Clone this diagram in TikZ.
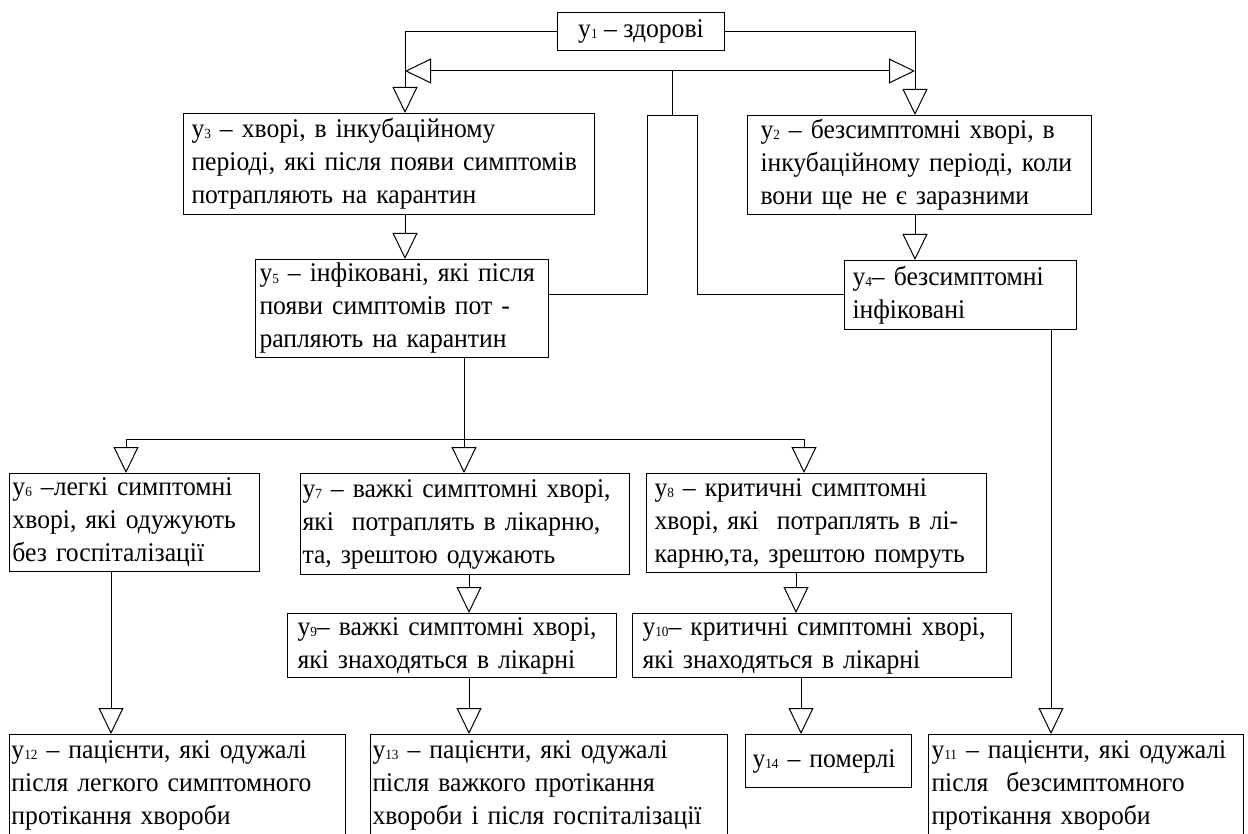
\documentclass[tikz,border=0pt]{standalone}
\usepackage{fontspec}
\setmainfont{Liberation Serif}[FakeStretch=0.95]
\usetikzlibrary{arrows.meta}

\newcommand{\ysub}[1]{y\raisebox{-0.04em}{\fontsize{14}{14}\selectfont #1}}

\begin{document}
\begin{tikzpicture}[x=1pt, y=-1pt,
    state/.style={draw, line width=1pt, rectangle, anchor=north west, align=left,
        inner ysep=0pt, font=\fontsize{27}{33}\selectfont},
    link/.style={line width=1pt},
    flow/.style={link, -{Triangle[open, length=26pt, width=25pt]}}]

    \useasboundingbox (0,0) rectangle (1248,834);

    % States of the model
    \node[state, minimum width=167pt, minimum height=38pt, align=center, inner xsep=0pt] (y1) at (557,12) {\ysub{1} – здорові};
    \node[state, text width=395pt, inner xsep=8pt, minimum height=101pt] (y3) at (183,113)
        {\ysub{3} – хворі, в інкубаційному\\ періоді, які після появи симптомів\\ потрапляють на карантин};
    \node[state, text width=318pt, inner xsep=13pt, minimum height=99pt] (y2) at (747,115)
        {\ysub{2} – безсимптомні хворі, в\\ інкубаційному періоді, коли\\ вони ще не є заразними};
    \node[state, text width=285pt, inner xsep=4pt, minimum height=98pt] (y5) at (255,259)
        {\ysub{5} – інфіковані, які після\\ появи симптомів пот -\\ рапляють на карантин};
    \node[state, text width=216pt, inner xsep=8pt, minimum height=69pt] (y4) at (844,260)
        {\ysub{4}– безсимптомні\\ інфіковані};
    \node[state, text width=244pt, inner xsep=3pt, minimum height=98pt] (y6) at (9,473)
        {\ysub{6} –легкі симптомні\\ хворі, які одужують\\ без госпіталізації};
    \node[state, text width=325pt, inner xsep=2pt, minimum height=101pt] (y7) at (300,473)
        {\ysub{7} – важкі симптомні хворі,\\ які\ \ потраплять в лікарню,\\ та, зрештою одужають};
    \node[state, text width=324pt, inner xsep=8pt, minimum height=99pt] (y8) at (646,473)
        {\ysub{8} – критичні симптомні\\ хворі, які\ \ потраплять в лі-\\ карню,та, зрештою помруть};
    \node[state, text width=309pt, inner xsep=10pt, minimum height=64pt] (y9) at (287,613)
        {\ysub{9}– важкі симптомні хворі,\\ які знаходяться в лікарні};
    \node[state, text width=359pt, inner xsep=10pt, minimum height=64pt] (y10) at (632,613)
        {\ysub{10}– критичні симптомні хворі,\\ які знаходяться в лікарні};
    \node[state, text width=332pt, inner xsep=2pt, minimum height=102pt] (y12) at (9,734)
        {\ysub{12} – пацієнти, які одужалі\\ після легкого симптомного\\ протікання хвороби};
    \node[state, text width=353pt, inner xsep=2pt, minimum height=102pt] (y13) at (370,734)
        {\ysub{13} – пацієнти, які одужалі\\ після важкого протікання\\ хвороби і після госпіталізації};
    \node[state, text width=152pt, inner xsep=7pt, minimum height=53pt] (y14) at (745,734)
        {\ysub{14} – померлі};
    \node[state, text width=309pt, inner xsep=3pt, minimum height=102pt] (y11) at (928,734)
        {\ysub{11} – пацієнти, які одужалі\\ після\ \ безсимптомного\\ протікання хвороби};

    % Junction points
    \coordinate (jm) at (672,71);
    \coordinate (jl) at (405,71);
    \coordinate (jr) at (915,71);
    \coordinate (bl) at (647,116);
    \coordinate (br) at (697,116);
    \coordinate (sp) at (464,439);
    \coordinate (sl) at (126,439);
    \coordinate (sr) at (804,439);

    % Columns of the vertical arrows
    \coordinate (c6) at (111,0);
    \coordinate (c7) at (469,0);
    \coordinate (c8) at (796,0);
    \coordinate (c10) at (801,0);
    \coordinate (c4) at (1051,0);

    % Infection
    \draw[flow] (y1.west) -| (jl |- y3.north);
    \draw[flow] (y1.east) -| (jr |- y2.north);
    \draw[flow] (jm) -- (jl);
    \draw[flow] (jm) -- (jr);

    % Infected feed back
    \draw[link] (jm) -- (jm |- bl);
    \draw[link] (y4.west) -| (br) -- (bl) |- (y5.east |- y4.west);

    % Course of the disease
    \draw[flow] (jl |- y3.south) -- (jl |- y5.north);
    \draw[flow] (jr |- y2.south) -- (jr |- y4.north);
    \draw[link] (sp |- y5.south) -- (sp);
    \draw[link] (sl) -- (sr);
    \draw[flow] (sl) -- (sl |- y6.north);
    \draw[flow] (sp) -- (sp |- y7.north);
    \draw[flow] (sr) -- (sr |- y8.north);
    \draw[flow] (c6 |- y6.south) -- (c6 |- y12.north);
    \draw[flow] (c7 |- y7.south) -- (c7 |- y9.north);
    \draw[flow] (c7 |- y9.south) -- (c7 |- y13.north);
    \draw[flow] (c8 |- y8.south) -- (c8 |- y10.north);
    \draw[flow] (c10 |- y10.south) -- (c10 |- y14.north);
    \draw[flow] (c4 |- y4.south) -- (c4 |- y11.north);

\end{tikzpicture}
\end{document}
